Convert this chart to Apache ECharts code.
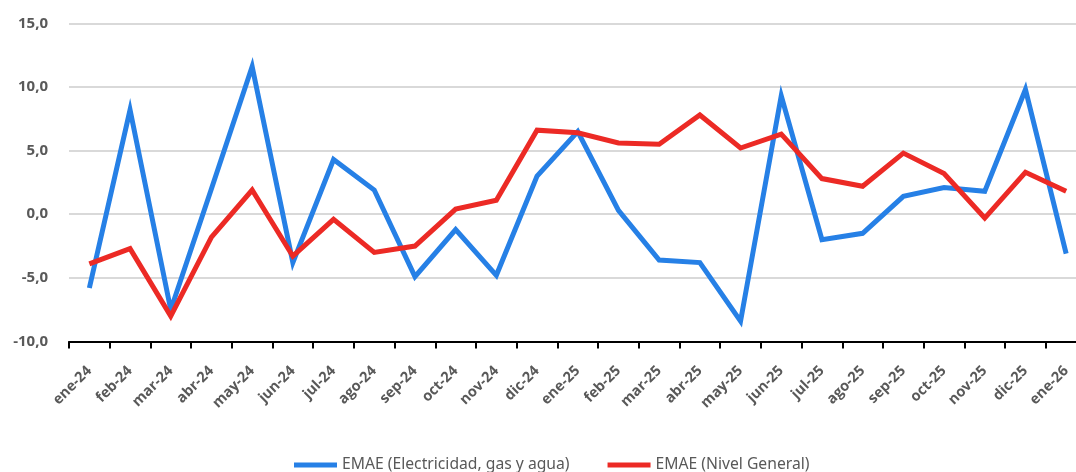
<!DOCTYPE html>
<html>
<head>
<meta charset="utf-8">
<script src="https://cdn.jsdelivr.net/npm/echarts@6/dist/echarts.min.js"></script>
<style>
  html, body { margin: 0; padding: 0; background: #ffffff; overflow: hidden; }
  #chart { width: 1090px; height: 472px; }
</style>
</head>
<body>
<div id="chart"></div>
<script>
// Monthly periods, ene-24 .. ene-26
const months = [
  'ene-24', 'feb-24', 'mar-24', 'abr-24', 'may-24', 'jun-24', 'jul-24', 'ago-24', 'sep-24',
  'oct-24', 'nov-24', 'dic-24', 'ene-25', 'feb-25', 'mar-25', 'abr-25', 'may-25', 'jun-25',
  'jul-25', 'ago-25', 'sep-25', 'oct-25', 'nov-25', 'dic-25', 'ene-26'
];

// EMAE – Electricidad, gas y agua (%)
const electricidad = [
  -5.8, 8.2, -7.5, 2.0, 11.6, -3.8, 4.3, 1.9, -4.9,
  -1.2, -4.8, 3.0, 6.5, 0.3, -3.6, -3.8, -8.4, 9.3,
  -2.0, -1.5, 1.4, 2.1, 1.8, 9.8, -3.1
];

// EMAE – Nivel General (%)
const nivelGeneral = [
  -3.9, -2.7, -8.0, -1.8, 1.9, -3.3, -0.4, -3.0, -2.5,
  0.4, 1.1, 6.6, 6.4, 5.6, 5.5, 7.8, 5.2, 6.3,
  2.8, 2.2, 4.8, 3.2, -0.3, 3.3, 1.8
];

// Value axis ticks
const yMin = -10, yMax = 15, yStep = 5;

const seriesNames = ['EMAE (Electricidad, gas y agua)', 'EMAE (Nivel General)'];
const textGrey = '#595959';

const chart = echarts.init(document.getElementById('chart'), null, { renderer: 'canvas' });

chart.setOption({
  animation: false,
  backgroundColor: '#ffffff',
  grid: { left: 69, right: 3.5, top: 23.3, bottom: 130.5, containLabel: false },
  legend: {
    left: 289,
    top: 452,
    itemWidth: 43,
    itemHeight: 5,
    itemGap: 38,
    icon: 'rect',
    textStyle: { color: textGrey, fontFamily: 'Noto Sans', fontSize: 15.7 },
    data: seriesNames
  },
  xAxis: {
    type: 'category',
    data: months,
    boundaryGap: true,
    axisLine: { onZero: false, lineStyle: { color: '#000000', width: 2 } },
    axisTick: { show: true, alignWithLabel: false, length: 7, lineStyle: { color: '#000000', width: 2 } },
    axisLabel: {
      interval: 0,
      rotate: 45,
      margin: 27,
      color: textGrey,
      fontFamily: 'Open Sans',
      fontWeight: 'bold',
      fontSize: 14.5
    }
  },
  yAxis: {
    type: 'value',
    min: yMin,
    max: yMax,
    interval: yStep,
    axisLine: { show: false },
    axisTick: { show: false },
    splitLine: { show: true, lineStyle: { color: '#d9d9d9', width: 2 } },
    axisLabel: {
      margin: 21,
      color: textGrey,
      fontFamily: 'Open Sans',
      fontWeight: 'bold',
      fontSize: 15,
      formatter: v => v.toFixed(1).replace('.', ',')
    }
  },
  series: [
    {
      name: seriesNames[0],
      type: 'line',
      data: electricidad,
      showSymbol: false,
      symbol: 'none',
      z: 2,
      itemStyle: { color: '#2680e6' },
      lineStyle: { color: '#2680e6', width: 5, join: 'miter' }
    },
    {
      name: seriesNames[1],
      type: 'line',
      data: nivelGeneral,
      showSymbol: false,
      symbol: 'none',
      z: 3,
      itemStyle: { color: '#ec2a25' },
      lineStyle: { color: '#ec2a25', width: 5, join: 'miter' }
    }
  ]
});
</script>
</body>
</html>
